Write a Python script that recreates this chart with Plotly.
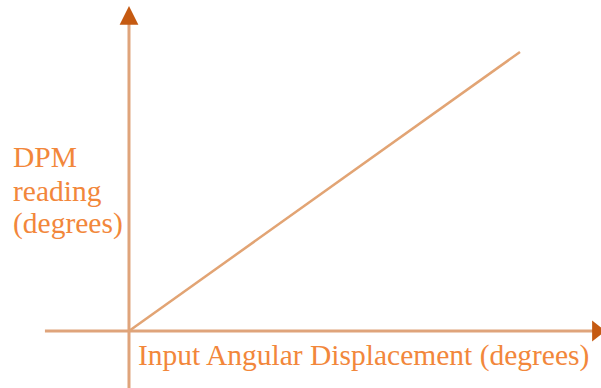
import plotly.graph_objects as go

# input angular displacement vs DPM reading (linear, through origin)
input_deg = [0, 100]
dpm_deg = [0, 100]

x_label = "Input Angular Displacement (degrees)"
y_label_lines = ["DPM", "reading", "(degrees)"]

axis_col = "#DFA47B"
head_col = "#C55A11"
text_col = "#F2873B"
font_family = "Liberation Serif, Times New Roman, serif"

W, H = 601, 388
# origin sits at (129, 331) px, line end at (520, 52) px
x_range = [-32.99, 120.72]
y_range = [-20.43, 118.64]

fig = go.Figure()

# axis shafts
fig.add_trace(go.Scatter(x=[-21.5, 121], y=[0, 0], mode="lines",
                         line=dict(color=axis_col, width=3), hoverinfo="skip"))
fig.add_trace(go.Scatter(x=[0, 0], y=[y_range[0], 113], mode="lines",
                         line=dict(color=axis_col, width=3), hoverinfo="skip"))

# the response line
fig.add_trace(go.Scatter(x=input_deg, y=dpm_deg, mode="lines",
                         line=dict(color="#E2A474", width=2.5), hoverinfo="skip"))

# arrow heads: y one as an annotation arrow, x one as a marker cut off by the page edge
fig.add_annotation(x=0, y=116.5, ax=0, ay=112.5, xref="x", yref="y", axref="x", ayref="y",
                   text="", showarrow=True, arrowhead=2, arrowsize=1.25, arrowwidth=3,
                   arrowcolor=head_col)
fig.add_trace(go.Scatter(x=[119.6], y=[0], mode="markers", cliponaxis=True,
                         marker=dict(symbol="triangle-right", size=18, color=head_col,
                                     line=dict(width=0)),
                         hoverinfo="skip"))

# labels
fig.add_annotation(x=136 / W, y=1 - 355 / H, xref="paper", yref="paper",
                   text=x_label, showarrow=False, xanchor="left", yanchor="middle",
                   font=dict(family=font_family, size=29.5, color=text_col))
for txt, py in zip(y_label_lines, [157, 191, 224]):
    fig.add_annotation(x=11 / W, y=1 - py / H, xref="paper", yref="paper",
                       text=txt, showarrow=False, xanchor="left", yanchor="middle",
                       font=dict(family=font_family, size=29.5, color=text_col))

fig.update_xaxes(range=x_range, visible=False)
fig.update_yaxes(range=y_range, visible=False)
fig.update_layout(width=W, height=H, margin=dict(l=0, r=0, t=0, b=0),
                  showlegend=False, plot_bgcolor="white", paper_bgcolor="white")

# drop the default page margin so the figure fills the window
fig.write_html("out.html", config={"displayModeBar": False},
               post_script="document.body.style.margin='0';document.body.style.overflow='hidden';")
